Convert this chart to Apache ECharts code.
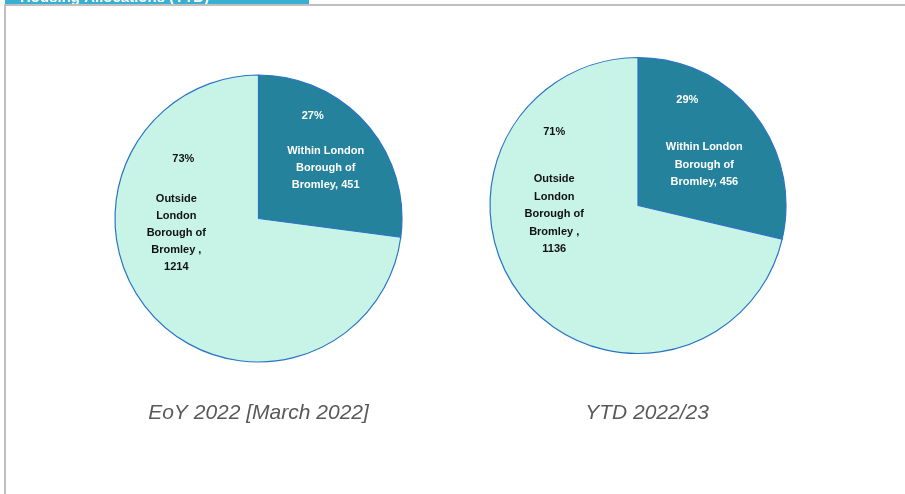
<!DOCTYPE html>
<html>
<head>
<meta charset="utf-8">
<title>Housing Allocations (YTD)</title>
<script src="https://cdn.jsdelivr.net/npm/echarts@6/dist/echarts.min.js"></script>
<style>
  html, body { margin: 0; padding: 0; background: #fff; }
  #housing-echarts { width: 905px; height: 494px; }
</style>
</head>
<body>
<div id="housing-echarts"></div>
<script>
// data
const categories = ['Within London Borough of Bromley', 'Outside London Borough of Bromley ']
const eoy2022 = [451, 1214]
const ytd2223 = [456, 1136]
const chartTitles = ['EoY 2022 [March 2022]', 'YTD 2022/23']

const sliceColors = ['#25829c', '#c7f4e7']
const labelColors = ['#ffffff', '#111111']

// simple word wrap, Excel breaks the labels by width
function wrap(text, maxChars) {
  const words = text.split(' ').filter(w => w.length)
  const lines = []
  let line = ''
  words.forEach(w => {
    if (line && (line + ' ' + w).length > maxChars) {
      lines.push(line)
      line = w
    } else {
      line = line ? line + ' ' + w : w
    }
  })
  if (line) lines.push(line)
  return lines
}

// per pie: centre, radius, and where each slice label sits
const pies = [
  {
    values: eoy2022,
    center: [258.5, 218.5],
    radius: 143.5,
    title: { x: 258.5, y: 402 },
    labels: [
      { offset: [11, -18.5], gap: 18, pad: [0, 26, 0, 0], wrapAt: 13, lh: 17 },
      { offset: [-26, -55], gap: 23, pad: [0, 0, 0, 14], wrapAt: 10, lh: 17 }
    ]
  },
  {
    values: ytd2223,
    center: [638, 205.5],
    radius: 148,
    title: { x: 647, y: 402 },
    labels: [
      { offset: [6, -16.5], gap: 30, pad: [0, 34, 0, 0], wrapAt: 13, lh: 17.5 },
      { offset: [-23.5, -62.5], gap: 30, pad: [0, 0, 0, 0], wrapAt: 10, lh: 17.5 }
    ]
  }
]

function buildSeries(pie) {
  return {
    type: 'pie',
    center: pie.center,
    radius: pie.radius,
    startAngle: 90,
    clockwise: true,
    avoidLabelOverlap: false,
    animation: false,
    silent: true,
    itemStyle: {
      borderColor: '#2a74c4',
      borderWidth: 1.2
    },
    labelLine: { show: false },
    data: categories.map((name, i) => {
      const lab = pie.labels[i]
      const font = { fontSize: 11, fontWeight: 'bold', color: labelColors[i] }
      return {
        name: name,
        value: pie.values[i],
        itemStyle: { color: sliceColors[i] },
        label: {
          show: true,
          position: 'inside',
          offset: lab.offset,
          formatter: params => {
            const lines = wrap(params.name + ', ' + params.value, lab.wrapAt)
            return '{p|' + Math.round(params.percent) + '%}\n{s| }\n' +
              lines.map(l => '{n|' + l + '}').join('\n')
          },
          rich: {
            p: Object.assign({ lineHeight: 17, padding: lab.pad }, font),
            s: { fontSize: 1, lineHeight: lab.gap },
            n: Object.assign({ lineHeight: lab.lh }, font)
          }
        }
      }
    })
  }
}

const option = {
  backgroundColor: '#ffffff',
  textStyle: { fontFamily: '"Liberation Sans", Arial, sans-serif' },
  title: pies.map((pie, i) => ({
    text: chartTitles[i],
    left: pie.title.x,
    top: pie.title.y,
    textAlign: 'center',
    padding: 0,
    textStyle: {
      fontSize: 21,
      fontStyle: 'italic',
      fontWeight: 'normal',
      color: '#595959',
      lineHeight: 22
    }
  })),
  // frame of the slide: the cyan tab and the grey border
  graphic: [
    { type: 'rect', shape: { x: 5, y: 0, width: 304, height: 4 }, style: { fill: '#38b0d2' }, silent: true },
    {
      type: 'text', x: 20, y: 5, silent: true,
      style: { text: 'Housing Allocations (YTD)', fill: '#ffffff', font: 'bold 15px "Liberation Sans", Arial', verticalAlign: 'bottom' }
    },
    { type: 'rect', shape: { x: 4, y: 4, width: 901, height: 2 }, style: { fill: '#bfbfbf' }, silent: true },
    { type: 'rect', shape: { x: 4, y: 4, width: 2, height: 490 }, style: { fill: '#bfbfbf' }, silent: true }
  ],
  series: pies.map(buildSeries)
}

const myChart = echarts.init(document.getElementById('housing-echarts'), null, { renderer: 'canvas' })
myChart.setOption(option)
</script>
</body>
</html>
